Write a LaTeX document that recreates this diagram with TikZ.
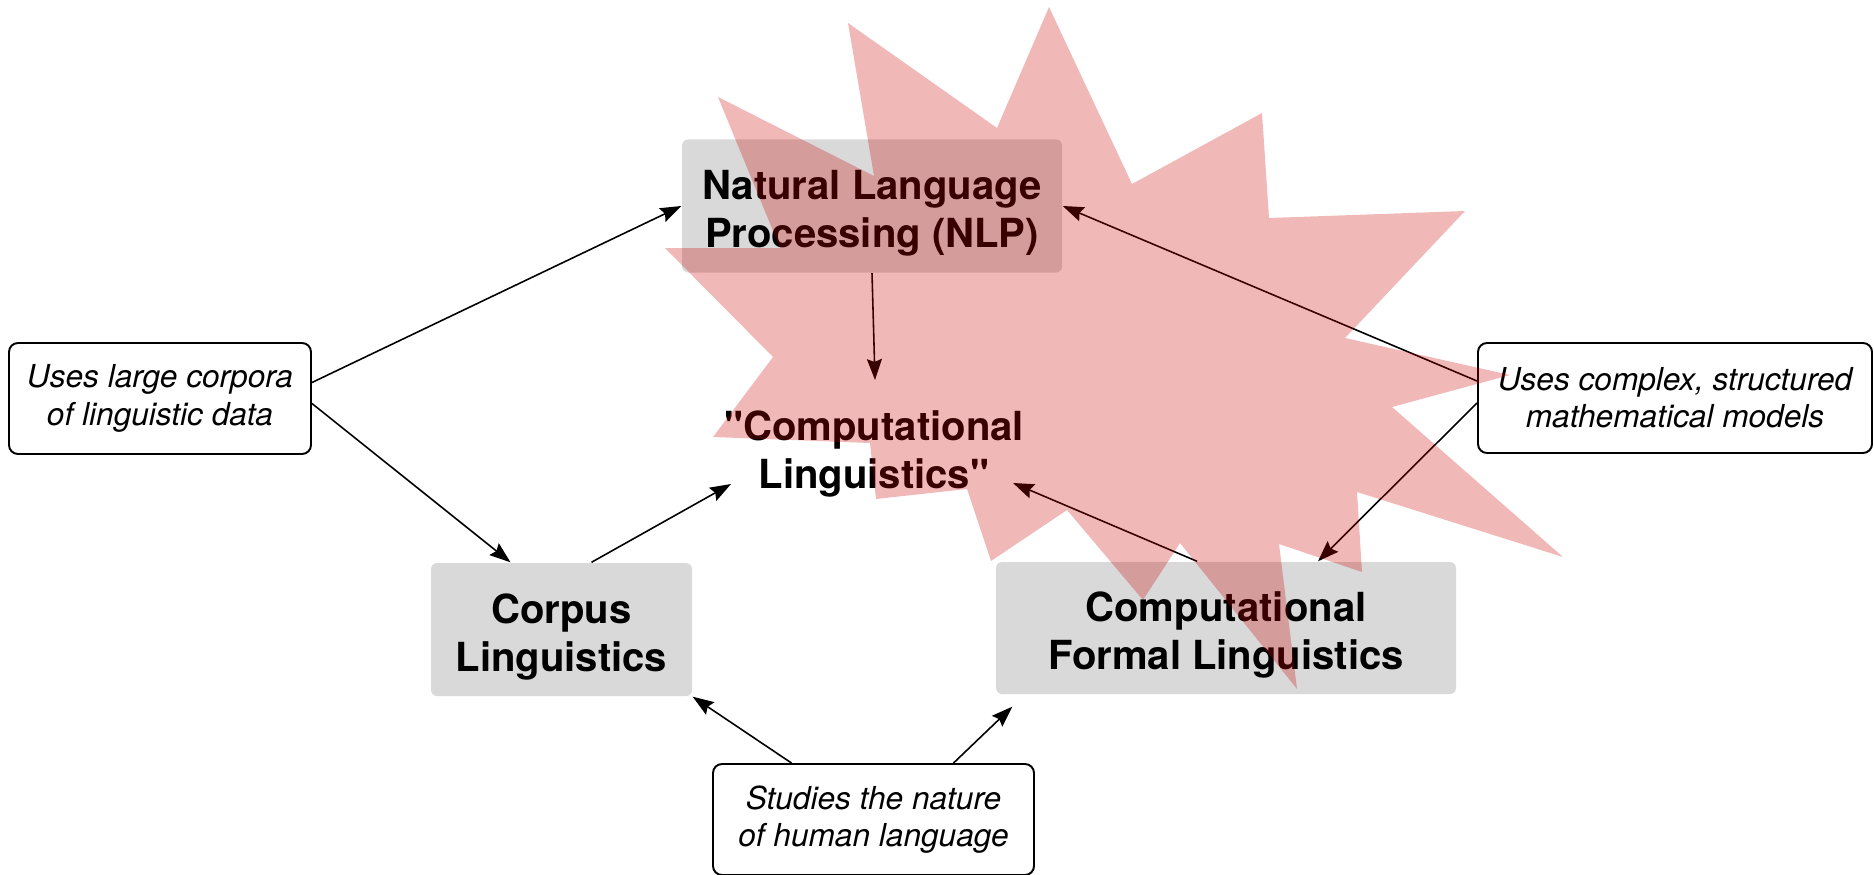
\documentclass[tikz,border=0pt]{standalone}
\usepackage{fontspec}
\setmainfont{TeX Gyre Heros}[Ligatures=TeXOff]
\usetikzlibrary{calc,arrows.meta}
\definecolor{boxgray}{RGB}{217,217,217}
\definecolor{burstred}{RGB}{204,0,0}
\def\topline{\rule{0pt}{4.4mm}}
\tikzset{
	field/.style={inner sep=0pt, align=center, font=\fontsize{11.4}{13.7}\selectfont\bfseries},
	fieldbox/.style={field, fill=boxgray, rounded corners=0.6mm},
	remark/.style={draw=black, line width=0.55pt, fill=white, rounded corners=0.9mm, inner sep=0pt,
		align=center, font=\fontsize{9}{10.6}\selectfont\itshape},
	link/.style={line width=0.45pt, -{Stealth[length=2.1mm,width=1.5mm,inset=0.3mm]}},
}

\begin{document}
\begin{tikzpicture}
			%%%%% START %%%%%
			\useasboundingbox (0, 0) rectangle (18.74, 8.74);
			
			\node[fieldbox, minimum width=3.80cm, minimum height=1.33cm] (nlp) at (8.72, 6.68) {\topline Natural Language\\Processing (NLP)};
			\node[fieldbox, minimum width=2.61cm, minimum height=1.33cm] (corpus) at (5.615, 2.445) {\topline Corpus\\Linguistics};
			\node[fieldbox, minimum width=4.60cm, minimum height=1.32cm] (cfl) at (12.26, 2.46) {\topline Computational\\Formal Linguistics};
			\node[field] (cl) at (8.74, 4.20) {"Computational\\Linguistics"};
			
			\node[remark, minimum width=3.02cm, minimum height=1.11cm] (large) at (1.60, 4.755) {Uses large corpora\\of linguistic data};
			\node[remark, minimum width=3.94cm, minimum height=1.10cm] (models) at (16.75, 4.76) {Uses complex, structured\\mathematical models};
			\node[remark, minimum width=3.21cm, minimum height=1.11cm] (nature) at (8.735, 0.545) {Studies the nature\\of human language};
			
			\draw[link] ([yshift=1.6mm]large.east) -- (nlp.west);
			\draw[link] ([yshift=-0.5mm]large.east) -- ([xshift=-5.1mm]corpus.north);
			\draw[link] ([xshift=3mm]corpus.north) -- ($(cl.center)+(-1.43, -0.30)$);
			\draw[link] (nlp.south) -- ($(cl.center)+(0.01, 0.74)$);
			\draw[link] ([xshift=-2.9mm]cfl.north) -- ($(cl.center)+(1.39, -0.29)$);
			\draw[link] ([yshift=1.7mm]models.west) -- (nlp.east);
			\draw[link] ([yshift=-0.5mm]models.west) -- ([xshift=9.2mm]cfl.north);
			\draw[link] ([xshift=-8.2mm]nature.north) -- (corpus.south east);
			\draw[link] ([xshift=8mm]nature.north) -- ([shift={(0.17, -0.12)}]cfl.south west);
			
			% the burst lies over everything
			\fill[burstred, opacity=0.28] (15.63, 3.17) -- (13.57, 3.82) -- (13.62, 3.02) -- (12.79, 3.30)
				-- (12.97, 1.85) -- (11.80, 3.31) -- (11.43, 2.74) -- (10.67, 3.64) -- (9.91, 3.13)
				-- (9.67, 3.85) -- (8.76, 3.75) -- (8.70, 4.31) -- (7.13, 4.37) -- (7.73, 5.17)
				-- (6.65, 6.26) -- (7.80, 6.26) -- (7.18, 7.77) -- (8.74, 6.98) -- (8.48, 8.51)
				-- (9.97, 7.46) -- (10.49, 8.67) -- (11.32, 6.90) -- (12.62, 7.61) -- (12.69, 6.56)
				-- (14.65, 6.63) -- (13.45, 5.36) -- (15.10, 4.99) -- (13.92, 4.67) -- cycle;
			
			%%%%% END %%%%%
\end{tikzpicture}
\end{document}
